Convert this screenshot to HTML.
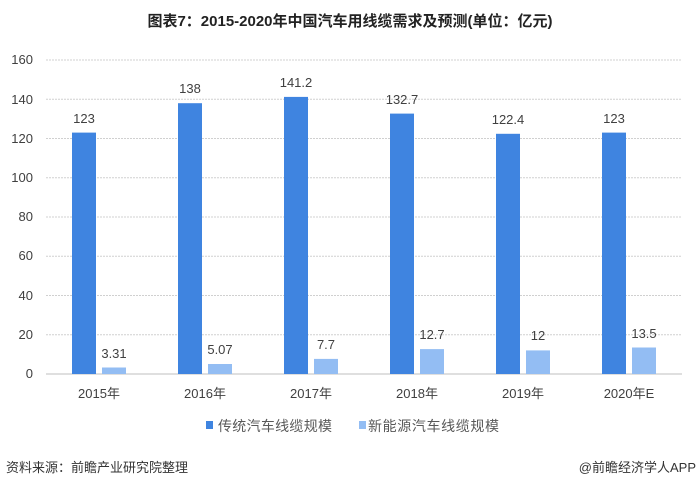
<!DOCTYPE html>
<html><head><meta charset="utf-8"><style>
body{margin:0;background:#fff;}
svg text{font-family:"Liberation Sans","Noto Sans CJK SC",sans-serif;}
</style></head><body>
<svg width="700" height="489" viewBox="0 0 700 489" xmlns="http://www.w3.org/2000/svg">
<rect width="700" height="489" fill="#fff"/>
<text x="350" y="26" text-anchor="middle" font-size="15" font-weight="bold" fill="#222">图表7：2015-2020年中国汽车用线缆需求及预测(单位：亿元)</text>
<g stroke="#d0d0d0" stroke-width="1" stroke-dasharray="2,1">
<line x1="46" x2="682" y1="60" y2="60"/>
<line x1="46" x2="682" y1="99.25" y2="99.25"/>
<line x1="46" x2="682" y1="138.5" y2="138.5"/>
<line x1="46" x2="682" y1="177.75" y2="177.75"/>
<line x1="46" x2="682" y1="217" y2="217"/>
<line x1="46" x2="682" y1="256.25" y2="256.25"/>
<line x1="46" x2="682" y1="295.5" y2="295.5"/>
<line x1="46" x2="682" y1="334.75" y2="334.75"/>
</g>
<line x1="46" x2="682" y1="374" y2="374" stroke="#bfbfbf"/>
<g font-size="13" fill="#404040" text-anchor="end">
<text x="33" y="64">160</text><text x="33" y="104">140</text><text x="33" y="143">120</text><text x="33" y="182">100</text>
<text x="33" y="221">80</text><text x="33" y="260">60</text><text x="33" y="300">40</text><text x="33" y="339">20</text><text x="33" y="378">0</text>
</g>
<g fill="#3f84e0">
<rect x="72" y="132.6" width="24" height="241.4"/>
<rect x="178" y="103.2" width="24" height="270.8"/>
<rect x="284" y="96.9" width="24" height="277.1"/>
<rect x="390" y="113.6" width="24" height="260.4"/>
<rect x="496" y="133.8" width="24" height="240.2"/>
<rect x="602" y="132.6" width="24" height="241.4"/>
</g>
<g fill="#93bdf3">
<rect x="102" y="367.5" width="24" height="6.5"/>
<rect x="208" y="364" width="24" height="10"/>
<rect x="314" y="358.9" width="24" height="15.1"/>
<rect x="420" y="349.1" width="24" height="24.9"/>
<rect x="526" y="350.4" width="24" height="23.6"/>
<rect x="632" y="347.5" width="24" height="26.5"/>
</g>
<g font-size="13" fill="#404040" text-anchor="middle">
<text x="84" y="123">123</text><text x="190" y="93">138</text><text x="296" y="87">141.2</text>
<text x="402" y="104">132.7</text><text x="508" y="124">122.4</text><text x="614" y="123">123</text>
<text x="114" y="358">3.31</text><text x="220" y="354">5.07</text><text x="326" y="349">7.7</text>
<text x="432" y="339">12.7</text><text x="538" y="340">12</text><text x="644" y="338">13.5</text>
<text x="99" y="398">2015年</text><text x="205" y="398">2016年</text><text x="311" y="398">2017年</text>
<text x="417" y="398">2018年</text><text x="523" y="398">2019年</text><text x="629" y="398">2020年E</text>
</g>
<rect x="206" y="421" width="7" height="8" fill="#3f84e0"/>
<text x="218" y="431" font-size="14" fill="#595959" textLength="114">传统汽车线缆规模</text>
<rect x="359" y="421" width="7" height="8" fill="#93bdf3"/>
<text x="368" y="431" font-size="14" fill="#595959" textLength="131">新能源汽车线缆规模</text>
<text x="6" y="472" font-size="13" fill="#333">资料来源：前瞻产业研究院整理</text>
<text x="696" y="472" font-size="13" fill="#333" text-anchor="end">@前瞻经济学人APP</text>
</svg>
</body></html>
